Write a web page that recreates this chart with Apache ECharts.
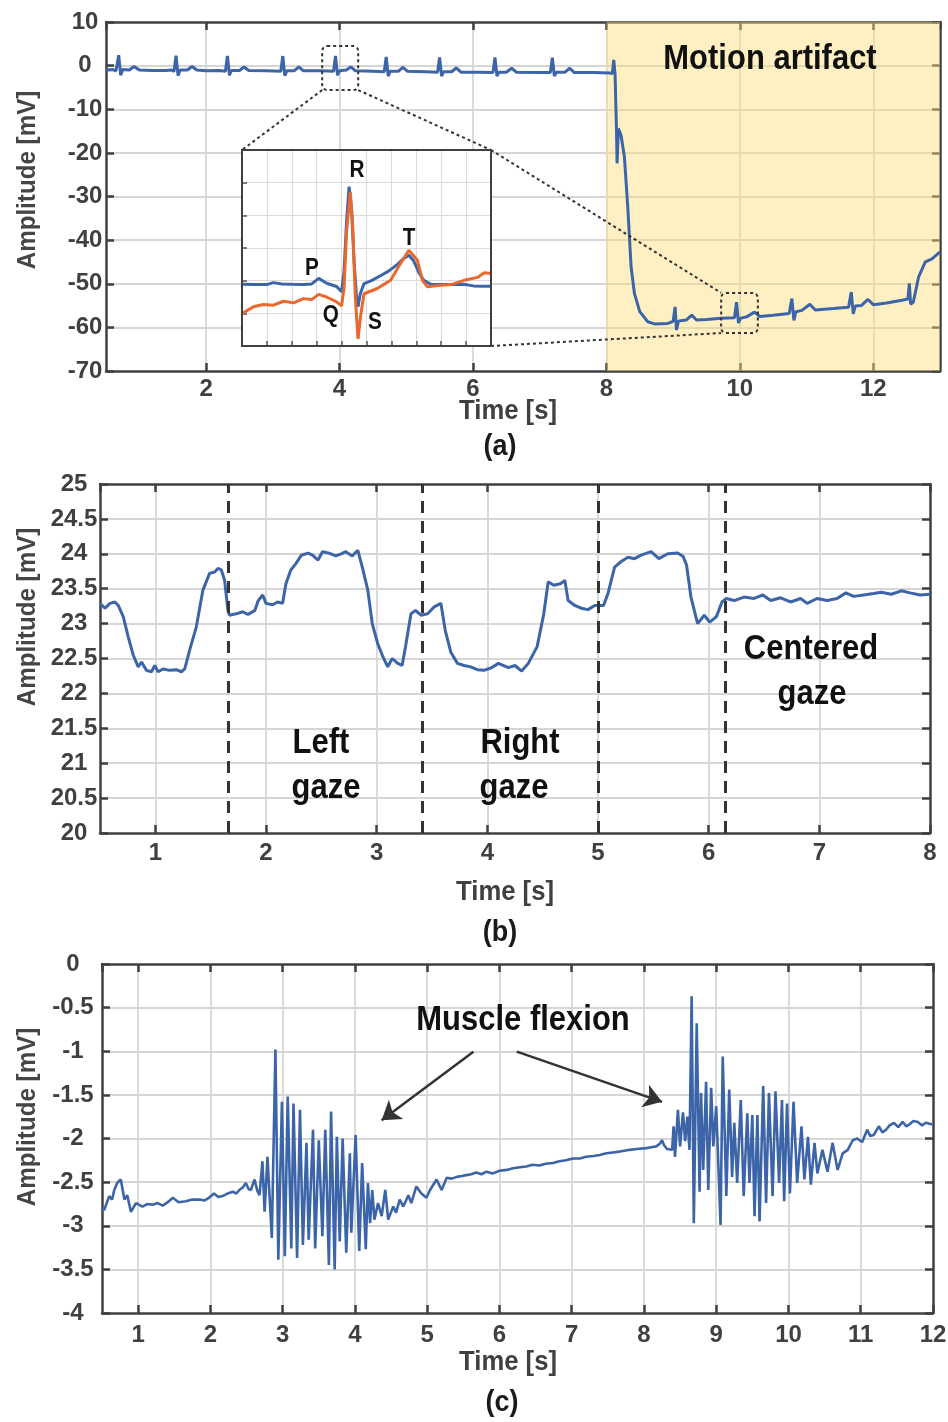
<!DOCTYPE html>
<html><head><meta charset="utf-8">
<script src="https://cdn.jsdelivr.net/npm/echarts@6/dist/echarts.min.js"></script>
<style>html,body{margin:0;padding:0;background:#fff}#c{width:948px;height:1422px}</style>
</head><body><div id="c"></div><script>
// ---------- DATA ----------
// (a) ECG with motion artifact: [time s, amplitude mV]
const ecgSamples = [
[0.5,-0.8],[0.55,-1.0],[0.6,-0.9],[0.65,-1.2],[0.69,2.4],[0.72,-2.2],[0.75,-0.9],[0.85,-1.0],[0.92,-0.2],[1.0,-1.0],[1.2,-1.1],[1.4,-1.1],[1.48,-1.0],[1.52,-1.3],[1.55,2.3],[1.58,-2.3],[1.61,-1.0],[1.72,-1.0],[1.79,-0.2],[1.86,-1.0],[2.0,-1.2],[2.2,-1.1],[2.29,-1.3],[2.32,2.2],[2.35,-2.2],[2.38,-1.1],[2.5,-1.1],[2.57,-0.3],[2.64,-1.1],[2.9,-1.2],[3.12,-1.3],[3.15,2.2],[3.18,-2.3],[3.21,-1.2],[3.32,-1.2],[3.39,-0.3],[3.46,-1.2],[3.7,-1.2],[3.91,-1.3],[3.94,2.2],[3.97,-2.2],[4.0,-1.2],[4.1,-1.0],[4.17,-0.3],[4.24,-1.2],[4.5,-1.3],[4.67,-1.4],[4.7,2.0],[4.73,-2.4],[4.76,-1.3],[4.88,-1.3],[4.95,-0.4],[5.02,-1.3],[5.3,-1.4],[5.47,-1.5],[5.5,1.9],[5.53,-2.4],[5.56,-1.4],[5.68,-1.4],[5.75,-0.5],[5.82,-1.5],[6.1,-1.5],[6.3,-1.6],[6.33,1.9],[6.36,-2.4],[6.39,-1.5],[6.5,-1.5],[6.58,-0.6],[6.65,-1.5],[7.0,-1.6],[7.16,-1.6],[7.19,1.8],[7.22,-2.4],[7.25,-1.5],[7.38,-1.5],[7.45,-0.6],[7.52,-1.6],[7.8,-1.6],[8.05,-1.7],[8.09,-1.8],[8.11,1.3],[8.13,-2.0],[8.15,-14.0],[8.16,-22.4],[8.18,-14.4],[8.22,-16.0],[8.27,-20.9],[8.32,-32.3],[8.37,-46.1],[8.42,-52.2],[8.5,-56.4],[8.62,-58.7],[8.72,-59.2],[8.92,-59.1],[9.0,-58.6],[9.03,-55.3],[9.05,-60.6],[9.08,-58.6],[9.14,-58.4],[9.2,-58.3],[9.28,-57.2],[9.35,-58.3],[9.5,-58.2],[9.72,-57.9],[9.92,-57.8],[9.95,-54.2],[9.98,-59.0],[10.01,-57.9],[10.1,-57.6],[10.22,-56.5],[10.3,-57.5],[10.5,-57.2],[10.74,-56.8],[10.78,-53.4],[10.81,-58.4],[10.84,-56.4],[10.93,-56.1],[11.05,-54.7],[11.13,-56.0],[11.4,-55.7],[11.63,-55.4],[11.67,-51.9],[11.7,-56.9],[11.73,-55.1],[11.82,-55.0],[11.92,-53.6],[12.0,-54.8],[12.2,-54.4],[12.43,-53.8],[12.52,-53.5],[12.54,-49.9],[12.56,-54.7],[12.6,-54.2],[12.68,-48.4],[12.78,-45.0],[12.88,-44.3],[13.0,-42.7]
];
const motionSpan = [8, 13];
// zoom boxes in (a) data coordinates: [xMin, xMax, yMin, yMax]
const zoomBoxClean = [3.74, 4.28, -5.6, 4.5];
const zoomBoxMotion = [9.72, 10.27, -61.3, -52.1];
// inset beat (arbitrary units, x 0..10, y 0..6)
const insetBlue = [[0,1.89],[0.5,1.88],[1.0,1.88],[1.26,1.94],[1.6,1.9],[2.0,1.89],[2.5,1.88],[2.8,1.9],[3.08,2.07],[3.4,1.92],[3.8,1.82],[4.0,1.66],[4.1,2.3],[4.2,3.8],[4.3,4.88],[4.4,4.2],[4.5,2.6],[4.6,1.5],[4.66,1.2],[4.75,1.6],[4.9,1.91],[5.2,2.0],[5.56,2.15],[5.9,2.3],[6.24,2.5],[6.5,2.68],[6.7,2.78],[6.9,2.6],[7.1,2.25],[7.3,2.01],[7.58,1.89],[8.0,1.88],[8.5,1.88],[8.9,1.89],[9.3,1.84],[9.7,1.83],[10,1.83]];
const insetOrange = [[0,0.99],[0.46,1.2],[0.86,1.27],[1.26,1.25],[1.67,1.37],[2.07,1.32],[2.47,1.45],[2.8,1.42],[3.08,1.58],[3.4,1.5],[3.8,1.35],[4.0,1.23],[4.1,1.8],[4.2,3.5],[4.35,4.72],[4.45,3.6],[4.55,1.5],[4.66,0.22],[4.76,0.9],[4.9,1.6],[5.43,1.76],[5.97,2.01],[6.37,2.53],[6.7,2.93],[7.04,2.63],[7.25,2.0],[7.45,1.81],[7.85,1.85],[8.39,1.88],[8.92,2.01],[9.46,2.1],[9.73,2.24],[10,2.22]];
const waveLabels = [['P',2.81,2.36],['R',4.62,5.36],['T',6.71,3.28],['Q',3.57,0.92],['S',5.34,0.70]];

// (b) EOG gaze
const eogSamples = [
[0.5,23.29],[0.545,23.22],[0.59,23.29],[0.635,23.31],[0.665,23.26],[0.71,23.1],[0.755,22.81],[0.8,22.55],[0.845,22.38],[0.875,22.45],[0.92,22.33],[0.965,22.31],[0.995,22.4],[1.025,22.31],[1.07,22.35],[1.13,22.33],[1.19,22.34],[1.236,22.31],[1.266,22.35],[1.31,22.62],[1.37,22.95],[1.43,23.48],[1.49,23.72],[1.536,23.74],[1.566,23.79],[1.596,23.77],[1.626,23.62],[1.656,23.19],[1.67,23.12],[1.73,23.14],[1.79,23.17],[1.836,23.13],[1.9,23.19],[1.93,23.33],[1.97,23.41],[2.0,23.29],[2.06,23.27],[2.105,23.31],[2.15,23.29],[2.18,23.57],[2.225,23.77],[2.27,23.86],[2.32,23.98],[2.38,24.01],[2.42,23.98],[2.47,23.91],[2.51,24.03],[2.57,24.01],[2.63,23.97],[2.68,24.0],[2.72,24.03],[2.78,23.97],[2.83,24.05],[2.87,23.81],[2.92,23.48],[2.96,23.0],[3.01,22.71],[3.05,22.55],[3.1,22.38],[3.14,22.5],[3.19,22.43],[3.23,22.4],[3.26,22.66],[3.31,23.14],[3.35,23.19],[3.4,23.12],[3.46,23.14],[3.52,23.24],[3.58,23.29],[3.62,22.9],[3.67,22.59],[3.73,22.43],[3.79,22.4],[3.85,22.38],[3.91,22.34],[3.97,22.33],[4.04,22.37],[4.1,22.43],[4.19,22.37],[4.25,22.4],[4.31,22.32],[4.37,22.43],[4.45,22.67],[4.51,23.14],[4.55,23.6],[4.6,23.55],[4.66,23.57],[4.7,23.62],[4.73,23.33],[4.79,23.26],[4.85,23.22],[4.91,23.2],[4.97,23.26],[5.05,23.26],[5.09,23.43],[5.15,23.81],[5.21,23.89],[5.27,23.95],[5.33,23.93],[5.39,23.98],[5.48,24.03],[5.55,23.93],[5.63,24.0],[5.72,24.01],[5.77,23.96],[5.8,23.84],[5.84,23.38],[5.9,23.0],[5.96,23.12],[6.01,23.02],[6.07,23.1],[6.12,23.31],[6.16,23.36],[6.23,23.33],[6.32,23.38],[6.41,23.36],[6.49,23.41],[6.56,23.33],[6.65,23.37],[6.74,23.31],[6.83,23.36],[6.89,23.29],[6.98,23.36],[7.07,23.33],[7.16,23.36],[7.24,23.44],[7.31,23.39],[7.4,23.41],[7.49,23.43],[7.56,23.45],[7.65,23.42],[7.74,23.47],[7.82,23.44],[7.91,23.41],[8.0,23.42]
];
const gazeBoundaries = [1.66, 3.41, 5.0, 6.15];

// (c) EMG muscle flexion
const emgSamples = [
[0.5,-2.8],[0.53,-2.82],[0.6,-2.66],[0.64,-2.7],[0.67,-2.59],[0.71,-2.51],[0.76,-2.47],[0.81,-2.7],[0.85,-2.65],[0.9,-2.84],[0.97,-2.74],[1.06,-2.78],[1.13,-2.75],[1.2,-2.76],[1.27,-2.74],[1.34,-2.77],[1.41,-2.73],[1.48,-2.68],[1.56,-2.73],[1.66,-2.72],[1.75,-2.7],[1.85,-2.7],[1.92,-2.71],[1.98,-2.68],[2.05,-2.63],[2.11,-2.67],[2.17,-2.66],[2.24,-2.63],[2.31,-2.61],[2.36,-2.63],[2.4,-2.59],[2.45,-2.56],[2.49,-2.51],[2.53,-2.58],[2.56,-2.59],[2.61,-2.47],[2.65,-2.6],[2.68,-2.65],
[2.72,-2.26],[2.75,-2.84],[2.79,-2.21],[2.85,-3.14],[2.9,-0.98],[2.94,-3.39],[2.99,-1.58],[3.03,-3.35],[3.07,-1.52],[3.12,-3.26],[3.15,-1.6],[3.2,-3.37],[3.24,-1.67],[3.28,-3.22],[3.33,-2.05],[3.36,-3.16],[3.42,-1.9],[3.45,-3.26],[3.5,-2.02],[3.55,-3.12],[3.59,-1.9],[3.64,-3.45],[3.67,-1.69],[3.72,-3.5],[3.75,-1.98],[3.79,-3.18],[3.83,-2.0],[3.88,-3.31],[3.93,-2.17],[3.95,-3.08],[4.01,-1.96],[4.06,-3.29],[4.1,-2.28],[4.15,-3.27],[4.18,-2.51],[4.21,-2.97],[4.24,-2.59],[4.27,-2.93],[4.32,-2.74],[4.37,-2.89],[4.42,-2.59],[4.46,-2.93],[4.53,-2.78],[4.57,-2.85],[4.62,-2.7],[4.67,-2.78],[4.74,-2.65],[4.78,-2.74],[4.85,-2.55],[4.92,-2.63],[4.99,-2.68],[5.04,-2.59],[5.13,-2.47],[5.2,-2.59],[5.27,-2.45],[5.34,-2.46],[5.41,-2.44],[5.48,-2.43],[5.54,-2.42],[5.61,-2.41],[5.68,-2.39],[5.75,-2.41],[5.82,-2.38],[5.91,-2.4],[6.0,-2.37],[6.1,-2.36],[6.19,-2.34],[6.28,-2.33],[6.37,-2.32],[6.46,-2.3],[6.55,-2.31],[6.64,-2.29],[6.74,-2.28],[6.83,-2.26],[6.92,-2.25],[7.02,-2.23],[7.11,-2.23],[7.2,-2.21],[7.3,-2.2],[7.39,-2.19],[7.48,-2.17],[7.57,-2.16],[7.66,-2.15],[7.73,-2.14],[7.8,-2.13],[7.9,-2.12],[8.03,-2.11],[8.1,-2.1],[8.17,-2.09],[8.22,-2.06],[8.25,-2.02],[8.28,-2.08],[8.32,-2.12],[8.39,-2.13],
[8.41,-1.86],[8.43,-2.21],[8.47,-1.67],[8.5,-2.09],[8.54,-1.7],[8.57,-2.03],[8.6,-1.75],[8.63,-2.13],[8.66,-0.37],[8.69,-2.97],[8.73,-0.68],[8.77,-2.61],[8.79,-1.48],[8.82,-2.36],[8.86,-1.35],[8.89,-2.59],[8.93,-1.42],[8.96,-2.09],[9.0,-1.63],[9.06,-2.99],[9.09,-1.06],[9.14,-2.66],[9.18,-1.44],[9.22,-2.44],[9.25,-1.82],[9.29,-2.51],[9.34,-1.56],[9.38,-2.66],[9.43,-1.71],[9.46,-2.51],[9.5,-1.73],[9.53,-2.89],[9.57,-1.73],[9.6,-2.95],[9.65,-1.4],[9.69,-2.74],[9.73,-1.48],[9.78,-2.66],[9.82,-1.46],[9.87,-2.51],[9.91,-1.56],[9.94,-2.72],[9.98,-1.6],[10.02,-2.63],[10.07,-1.58],[10.12,-2.51],[10.18,-1.86],[10.22,-2.47],[10.27,-1.98],[10.31,-2.53],[10.36,-2.05],[10.4,-2.4],[10.47,-2.13],[10.54,-2.38],[10.61,-2.05],[10.68,-2.36],[10.75,-2.17],[10.82,-2.13],[10.89,-2.02],[10.95,-2.0],[11.02,-2.04],[11.09,-1.9],[11.13,-1.97],[11.18,-1.96],[11.25,-1.86],[11.3,-1.93],[11.35,-1.9],[11.4,-1.85],[11.46,-1.82],[11.52,-1.87],[11.58,-1.81],[11.63,-1.86],[11.67,-1.84],[11.73,-1.8],[11.79,-1.81],[11.85,-1.85],[11.9,-1.82],[11.99,-1.84]
];
// arrows (start -> tip) in (c) data coordinates
const flexionArrows = [[[5.64,-1.005],[4.37,-1.79]],[[6.24,-1.005],[8.25,-1.58]]];

// ---------- STYLE ----------
const FONT = '"Liberation Sans", Arial, sans-serif';
const AX = '#404040';
const GRID = '#d6d6d6';
const BLUE = '#3c64a8';
const ORANGE = '#e8682e';

function xBottom(gi, min, max, split, showMax, margin) {
  return {type:'value', gridIndex:gi, position:'bottom', min, max, splitNumber:split,
    axisLine:{show:true,onZero:false,lineStyle:{color:AX,width:2.5}},
    axisTick:{show:true,inside:true,length:8,lineStyle:{color:AX,width:2.5}},
    axisLabel:{show:true,showMinLabel:false,showMaxLabel:showMax,margin,color:AX,fontSize:24,fontWeight:'bold',fontFamily:FONT},
    splitLine:{show:true,showMinLine:false,showMaxLine:false,lineStyle:{color:GRID,width:1.8}}};
}
function xTop(gi, min, max, split) {
  return {type:'value', gridIndex:gi, position:'top', min, max, splitNumber:split,
    axisLine:{show:true,onZero:false,lineStyle:{color:AX,width:2.5}},
    axisTick:{show:true,inside:true,length:8,lineStyle:{color:AX,width:2.5}},
    axisLabel:{show:false}, splitLine:{show:false}};
}
function yLeft(gi, min, max, interval, margin) {
  return {type:'value', gridIndex:gi, position:'left', min, max, interval,
    axisLine:{show:true,onZero:false,lineStyle:{color:AX,width:2.5}},
    axisTick:{show:true,inside:true,length:8,lineStyle:{color:AX,width:2.5}},
    axisLabel:{show:true,margin,align:'center',color:AX,fontSize:24,fontWeight:'bold',fontFamily:FONT},
    splitLine:{show:true,showMinLine:false,showMaxLine:false,lineStyle:{color:GRID,width:1.8}}};
}
function yRight(gi, min, max, interval) {
  return {type:'value', gridIndex:gi, position:'right', min, max, interval,
    axisLine:{show:true,onZero:false,lineStyle:{color:AX,width:2.5}},
    axisTick:{show:true,inside:true,length:8,lineStyle:{color:AX,width:2.5}},
    axisLabel:{show:false}, splitLine:{show:false}};
}

const chart = echarts.init(document.getElementById('c'), null, {renderer:'canvas'});
chart.setOption({
  animation:false,
  backgroundColor:'#fff',
  grid:[
    {left:106, top:22, width:834, height:349, outerBoundsMode:'none'},
    {left:242, top:150, width:249, height:196, show:true, backgroundColor:'#fff', borderColor:AX, borderWidth:2, z:3, outerBoundsMode:'none'},
    {left:100, top:484, width:830, height:349, outerBoundsMode:'none'},
    {left:102, top:964, width:831, height:349, outerBoundsMode:'none'}
  ],
  xAxis:[
    xBottom(0, 0.5, 13, 6, false, 6),
    xTop(0, 0.5, 13, 6),
    {type:'value', gridIndex:1, min:0, max:10, interval:1, z:4,
      axisLine:{show:false}, axisTick:{show:true,inside:true,length:5,lineStyle:{color:'#555',width:1.5}},
      axisLabel:{show:false}, splitLine:{show:true,showMinLine:false,showMaxLine:false,lineStyle:{color:'#dcdcdc',width:1}}},
    xBottom(2, 0.5, 8, 7, true, 8),
    xTop(2, 0.5, 8, 7),
    xBottom(3, 0.5, 12, 11, true, 10),
    xTop(3, 0.5, 12, 11)
  ],
  yAxis:[
    yLeft(0, -70, 10, 10, 21),
    yRight(0, -70, 10, 10),
    {type:'value', gridIndex:1, min:0, max:6, interval:1, z:4,
      axisLine:{show:false}, axisTick:{show:true,inside:true,length:5,lineStyle:{color:'#555',width:1.5}},
      axisLabel:{show:false}, splitLine:{show:true,showMinLine:false,showMaxLine:false,lineStyle:{color:'#dcdcdc',width:1}}},
    yLeft(2, 20, 25, 0.5, 26),
    yRight(2, 20, 25, 0.5),
    yLeft(3, -4, 0, 0.5, 29),
    yRight(3, -4, 0, 0.5)
  ],
  series:[
    {type:'line', xAxisIndex:0, yAxisIndex:0, data:ecgSamples, symbol:'none', lineStyle:{color:BLUE,width:3}, z:2,
      markArea:{silent:true, itemStyle:{color:'rgba(252,222,120,0.45)'}, data:[[{xAxis:motionSpan[0]},{xAxis:motionSpan[1]}]]}},
    {type:'line', xAxisIndex:2, yAxisIndex:2, data:insetOrange, symbol:'none', lineStyle:{color:ORANGE,width:3}, z:6},
    {type:'line', xAxisIndex:2, yAxisIndex:2, data:insetBlue, symbol:'none', lineStyle:{color:BLUE,width:3}, z:5},
    {type:'line', xAxisIndex:3, yAxisIndex:3, data:eogSamples, symbol:'none', lineStyle:{color:BLUE,width:3}, z:2,
      markLine:{silent:true, symbol:'none', label:{show:false}, lineStyle:{type:[12,8],color:'#333',width:3}, data:gazeBoundaries.map(v=>({xAxis:v}))}},
    {type:'line', xAxisIndex:5, yAxisIndex:5, data:emgSamples, symbol:'none', lineStyle:{color:BLUE,width:2.6}, z:2,
      markLine:{silent:true, symbol:['none','arrow'], symbolSize:18, label:{show:false}, lineStyle:{type:'solid',color:'#333',width:2.5},
        data:flexionArrows.map(a=>[{coord:a[0]},{coord:a[1]}])}}
  ]
});

// ---------- annotations ----------
const px = (gi, x, y) => chart.convertToPixel({xAxisIndex: gi===0?0:2, yAxisIndex: gi===0?0:2}, [x, y]);
const g = [];
const dotted = {stroke:'#333', lineWidth:2, lineDash:[3,3], fill:'none'};
function box(b) {
  const p1 = px(0, b[0], b[3]), p2 = px(0, b[1], b[2]);
  g.push({type:'rect', z:20, shape:{x:p1[0], y:p1[1], width:p2[0]-p1[0], height:p2[1]-p1[1], r:5}, style:Object.assign({}, dotted)});
  return {tl:p1, br:p2, bl:[p1[0],p2[1]], tr:[p2[0],p1[1]]};
}
function line(a, b) {
  g.push({type:'line', z:20, shape:{x1:a[0],y1:a[1],x2:b[0],y2:b[1]}, style:Object.assign({}, dotted)});
}
const b1 = box(zoomBoxClean), b2 = box(zoomBoxMotion);
const iTL = px(1,0,6), iTR = px(1,10,6), iBR = px(1,10,0), iBL = px(1,0,0);
line(b1.bl, iTL); line(b1.br, iTR); line(iTR, b2.tl); line(iBR, b2.bl);
g.push({type:'rect', z:21, shape:{x:iTL[0], y:iTL[1], width:iTR[0]-iTL[0], height:iBL[1]-iTL[1]}, style:{fill:'none', stroke:AX, lineWidth:2}});

function txt(t, x, y, size, color, opts) {
  opts = opts || {};
  g.push({type:'text', z:30, x, y, rotation:opts.rot||0, scaleX:opts.sx||1,
    style:{text:t, font:'bold '+size+'px '+FONT, fill:color, textAlign:'center', textVerticalAlign:'middle'}});
}
waveLabels.forEach(w => { const p = px(1, w[1], w[2]); txt(w[0], p[0], p[1], 23, '#111', {sx:0.9}); });
txt('Motion artifact', 770, 59, 35, '#111', {sx:0.885});
txt('Left', 321, 743, 35, '#111', {sx:0.885});
txt('gaze', 326, 788, 35, '#111', {sx:0.885});
txt('Right', 520, 743, 35, '#111', {sx:0.885});
txt('gaze', 514, 788, 35, '#111', {sx:0.885});
txt('Centered', 811, 649, 35, '#111', {sx:0.885});
txt('gaze', 812, 694, 35, '#111', {sx:0.885});
txt('Muscle flexion', 523, 1020, 35, '#111', {sx:0.885});
// axis names & panel tags
[[180,412,447,'(a)',508,500],[617,893,933,'(b)',505,500],[1117,1363,1403,'(c)',508,502]].forEach(r => {
  txt('Amplitude [mV]', 28, r[0], 26, '#454545', {rot:Math.PI/2, sx:0.93});
  txt('Time [s]', r[4], r[1], 27, AX, {sx:0.95});
  txt(r[3], r[5], r[2], 30, '#1a1a1a', {sx:0.9});
});
chart.setOption({graphic: g});
</script></body></html>
